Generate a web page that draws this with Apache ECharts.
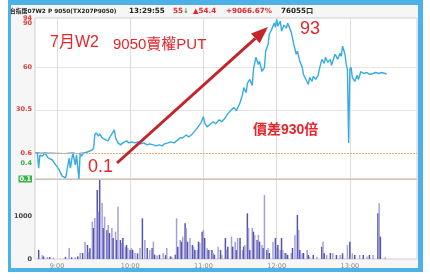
<!DOCTYPE html>
<html><head><meta charset="utf-8">
<script src="https://cdn.jsdelivr.net/npm/echarts@6/dist/echarts.min.js"></script>
<style>html,body{margin:0;padding:0;background:#fff}#c{width:430px;height:280px}</style>
</head><body><div id="c"></div>
<script>
// time in minutes relative to 9:00
const priceTimes = [-18,-16,-15,-14,-12,-10,-7,-4,-1,2,4,7,8,10,11,13,15,16,18,19,20,22,25,29,30,31,32,34,35,37,38,40,42,43,45,47,48,50,52,54,57,59,61,64,66,69,71,74,76,79,81,84,86,88,91,93,96,98,101,103,106,108,111,113,115,118,120,121,123,125,128,130,133,135,138,140,143,145,147,150,152,153,155,156,158,160,161,163,165,166,168,170,171,173,174,176,178,179,180,181,183,184,186,188,189,191,192,194,196,197,199,201,202,204,206,207,209,210,212,214,215,217,219,220,222,224,225,227,228,230,232,233,234,236,237,238,239,240,241,242,244,246,247,249,251,252,254,256,259,261,264,266,269,270];
const prices = [0.6,0.6,0.31,0.56,0.54,0.6,0.5,0.47,0.37,0.27,0.16,0.12,0.23,0.5,0.31,0.6,0.37,0.56,0.1,0.6,0.54,0.6,1.3,2.7,4.1,13.1,14.5,12.4,13.8,11.1,11.7,9.7,9.0,11.1,13.8,16.6,11.1,7.6,6.2,7.6,9.0,7.6,8.3,7.6,8.3,6.9,7.6,6.2,6.9,6.2,5.5,6.2,5.5,6.9,7.6,8.3,7.6,9.0,11.1,11.1,13.1,11.7,13.8,15.9,18.0,21.5,25.7,21.5,18.7,20.1,22.2,20.8,23.6,22.2,25.0,27.8,30.6,32.0,29.9,35.4,41.0,45.9,42.4,48.7,51.5,47.3,58.4,66.8,61.9,64.0,57.0,59.8,71.0,75.9,82.8,86.3,90.5,87.7,93.0,88.4,91.9,84.9,89.1,87.0,90.5,86.3,84.2,75.9,68.9,71.0,64.0,59.8,54.9,51.5,48.0,52.9,50.1,53.6,51.5,54.3,58.4,65.4,62.6,66.8,63.3,65.4,61.2,66.8,68.9,65.4,69.6,67.5,74.5,68.9,61.9,58.4,7.6,58.4,59.8,52.9,50.1,54.3,51.5,57.0,55.6,54.3,56.3,54.9,55.6,56.3,55.6,56.3,55.6,55.0];
const volTimes = [-15,-12,-11,-8,-6,-3,7,10,12,15,17,19,21,23,25,26,27,29,30,31,33,34,35,37,38,39,41,42,43,45,46,48,49,50,52,53,54,56,57,58,60,61,62,64,66,68,70,72,74,76,78,79,80,82,84,87,89,90,93,94,97,98,99,101,102,103,105,106,107,109,111,112,113,115,116,117,119,120,121,123,124,125,127,128,129,132,134,135,138,139,140,143,144,146,147,148,150,152,153,154,156,157,158,160,161,162,164,165,166,168,169,170,172,173,174,177,179,180,181,183,184,185,187,188,189,192,193,195,197,198,199,201,202,205,206,207,210,213,217,218,219,221,224,226,229,232,234,238,240,242,244,248,251,254,256,259,263,264,265,269];
const volumes = [210,93,60,47,47,30,47,256,40,40,60,140,140,400,326,163,250,868,721,953,1605,1101,1837,1302,721,985,675,791,605,721,488,636,442,1217,442,372,488,287,326,256,210,256,210,140,132,256,946,442,256,210,256,403,100,80,100,140,90,256,60,50,100,946,287,442,403,519,830,721,403,488,326,287,210,210,403,372,636,675,488,256,210,210,210,140,100,287,210,100,488,210,287,519,287,403,210,488,488,210,287,326,1062,721,210,721,636,558,442,558,403,326,256,1489,210,256,140,403,488,256,326,210,488,210,140,132,93,140,256,558,1023,675,210,132,140,210,93,50,93,50,287,403,132,93,140,132,93,93,132,326,403,132,93,93,93,60,93,93,1062,1295,519,40];
const timeTicks = [0,60,120,180,240];
const timeLabels = ['9:00','10:00','11:00','12:00','13:00'];
const upperTicks = [0.6,30.5,60,90];
const topTick = [94];
const lowerTicks = [0.1,0.4];
const volTicks = [0,1000];
const prevClose = 0.6;

const pricePairs = priceTimes.map((t,i)=>[t,prices[i]]);
const volPairs = volTimes.map((t,i)=>[t,volumes[i]]);

const X0 = -18, X1 = 295;
const L = 35, R = 13;
const lblFont = {fontFamily:'DejaVu Sans', fontSize:6.5, fontWeight:'bold'};
const red = '#e5262c';

function hiddenX(idx, extra){
  return Object.assign({type:'value', gridIndex:idx, min:X0, max:X1,
    axisLabel:{show:false}, axisTick:{show:false}, axisLine:{show:false}, splitLine:{show:false}}, extra||{});
}

// arrow geometry (annotation)
const aS=[117,163], aT=[268,27];
const dx=aT[0]-aS[0], dy=aT[1]-aS[1], len=Math.hypot(dx,dy), ux=dx/len, uy=dy/len;
const hl=17, hw=6.5;
const bc=[aT[0]-hl*ux, aT[1]-hl*uy];

const chart = echarts.init(document.getElementById('c'));
chart.setOption({
  animation:false,
  grid:[
    {left:L, right:R, top:18, height:161, show:true, backgroundColor:'#fff', borderColor:'#cfcfcf', borderWidth:1},
    {left:L, right:R, top:18, height:135},
    {left:L, right:R, top:153, height:26},
    {left:L, right:R, top:179, height:80, show:true, backgroundColor:'#fff', borderColor:'#cfcfcf', borderWidth:1}
  ],
  xAxis:[
    hiddenX(0,{axisTick:{show:false, customValues:timeTicks}, splitLine:{show:true, lineStyle:{color:'#dedede'}}}),
    hiddenX(1),
    hiddenX(2,{axisLine:{show:true, lineStyle:{color:'#d9bfb0'}}}),
    hiddenX(3,{axisTick:{show:false, customValues:timeTicks},
      splitLine:{show:true, lineStyle:{color:'#dedede'}},
      axisLabel:{show:true, customValues:timeTicks, margin:4, color:'#8a8a8a', fontFamily:'DejaVu Sans', fontSize:6.5,
        formatter:v=>timeLabels[timeTicks.indexOf(v)]}})
  ],
  yAxis:[
    {type:'value', gridIndex:0, show:false},
    {type:'value', gridIndex:1, min:0.6, max:94,
      axisLine:{show:false}, axisTick:{show:false, customValues:upperTicks},
      splitLine:{show:true, showMinLine:false, showMaxLine:false, lineStyle:{color:'#e6e6e6'}},
      axisLabel:Object.assign({customValues:upperTicks, margin:3, showMinLabel:true, hideOverlap:false,
        color:v=>v===prevClose?'#333':'#e53a3a', formatter:v=>String(v)}, lblFont)},
    {type:'value', gridIndex:2, min:0.1, max:0.6,
      axisLine:{show:false}, axisTick:{show:false, customValues:lowerTicks}, splitLine:{show:false},
      axisLabel:{customValues:lowerTicks, margin:3, showMinLabel:true, hideOverlap:false,
        formatter:v=> v===0.1 ? '{g|0.1}' : '{n|'+v+'}',
        rich:{g:Object.assign({color:'#fff', backgroundColor:'#3bb34a', padding:[0,1,0,1]}, lblFont),
              n:Object.assign({color:'#3bab48'}, lblFont)}}},
    {type:'value', gridIndex:3, min:0, max:1860,
      axisLine:{show:false}, axisTick:{show:false, customValues:volTicks},
      splitLine:{show:true, showMinLine:false, showMaxLine:false, lineStyle:{color:'#e6e6e6'}},
      axisLabel:Object.assign({customValues:volTicks, margin:3, color:'#444', formatter:v=>String(v)}, lblFont)},
    {type:'value', gridIndex:1, min:0.6, max:94, position:'left',
      axisLine:{show:false}, axisTick:{show:false, customValues:topTick}, splitLine:{show:false},
      axisLabel:Object.assign({customValues:topTick, margin:3, showMaxLabel:true, color:'#e53a3a',
        formatter:v=>String(v)}, lblFont)}
  ],
  series:[
    {type:'line', xAxisIndex:1, yAxisIndex:1, data:pricePairs, symbol:'none', clip:true,
      lineStyle:{color:'#35ace2', width:1.4},
      markLine:{silent:true, symbol:'none', label:{show:false},
        lineStyle:{color:'#f2a878', type:[2,1], width:1}, data:[{yAxis:prevClose}]}},
    {type:'line', xAxisIndex:2, yAxisIndex:2, data:pricePairs, symbol:'none', clip:true,
      lineStyle:{color:'#35ace2', width:1.4}},
    {type:'bar', xAxisIndex:3, yAxisIndex:3, data:volPairs, barWidth:1.5,
      itemStyle:{color:p=>p.dataIndex%2?'#a3a1d8':'#5553b0'}}
  ],
  graphic:[
    {type:'rect', z:-10, shape:{x:8,y:0,width:415,height:272}, style:{fill:'#4cb1e6'}},
    {type:'rect', z:-9, shape:{x:11,y:5,width:407,height:263}, style:{fill:'#f6f6f6'}},
    {type:'text', z:50, x:10, y:11, style:{text:'台指選07W2 P 9050(TX207P9050)', fill:'#222', font:'bold 5.8px "DejaVu Sans", "Noto Sans CJK TC"', verticalAlign:'middle', textVerticalAlign:'middle'}},
    {type:'text', z:50, x:129, y:11, style:{text:'13:29:55', fill:'#222', font:'bold 7.2px "DejaVu Sans"', verticalAlign:'middle', textVerticalAlign:'middle'}},
    {type:'text', z:50, x:173, y:11, style:{text:'55', fill:red, font:'bold 7.2px "DejaVu Sans"', verticalAlign:'middle', textVerticalAlign:'middle'}},
    {type:'text', z:50, x:183, y:11, style:{text:'↓', fill:'#2aa845', font:'bold 7px "DejaVu Sans"', verticalAlign:'middle', textVerticalAlign:'middle'}},
    {type:'text', z:50, x:193, y:11, style:{text:'▲54.4', fill:red, font:'bold 7.2px "DejaVu Sans"', verticalAlign:'middle', textVerticalAlign:'middle'}},
    {type:'text', z:50, x:226, y:11, style:{text:'+9066.67%', fill:red, font:'bold 7.2px "DejaVu Sans"', verticalAlign:'middle', textVerticalAlign:'middle'}},
    {type:'text', z:50, x:281, y:11, style:{text:'76055口', fill:'#222', font:'bold 7.2px "DejaVu Sans", "Noto Sans CJK TC"', verticalAlign:'middle', textVerticalAlign:'middle'}},
    {type:'text', z:50, x:50, y:43, style:{text:'7月W2', fill:red, font:'16px "Liberation Sans", "Noto Sans CJK TC"', verticalAlign:'middle', textVerticalAlign:'middle'}},
    {type:'text', z:50, x:113, y:45, style:{text:'9050賣權PUT', fill:red, font:'15px "Liberation Sans", "Noto Sans CJK TC"', verticalAlign:'middle', textVerticalAlign:'middle'}},
    {type:'text', z:50, x:300, y:29, style:{text:'93', fill:red, font:'18px "Liberation Sans"', verticalAlign:'middle', textVerticalAlign:'middle'}},
    {type:'text', z:50, x:253, y:130, style:{text:'價差930倍', fill:red, font:'bold 14px "Liberation Sans", "Noto Sans CJK TC"', verticalAlign:'middle', textVerticalAlign:'middle'}},
    {type:'text', z:50, x:88, y:167, style:{text:'0.1', fill:red, font:'18px "Liberation Sans"', verticalAlign:'middle', textVerticalAlign:'middle'}},
    {type:'line', z:60, shape:{x1:aS[0], y1:aS[1], x2:bc[0], y2:bc[1]}, style:{stroke:'#c4252b', lineWidth:3}},
    {type:'polygon', z:60, shape:{points:[aT, [bc[0]+hw*uy, bc[1]-hw*ux], [bc[0]-hw*uy, bc[1]+hw*ux]]}, style:{fill:'#c4252b'}}
  ]
});
</script></body></html>
